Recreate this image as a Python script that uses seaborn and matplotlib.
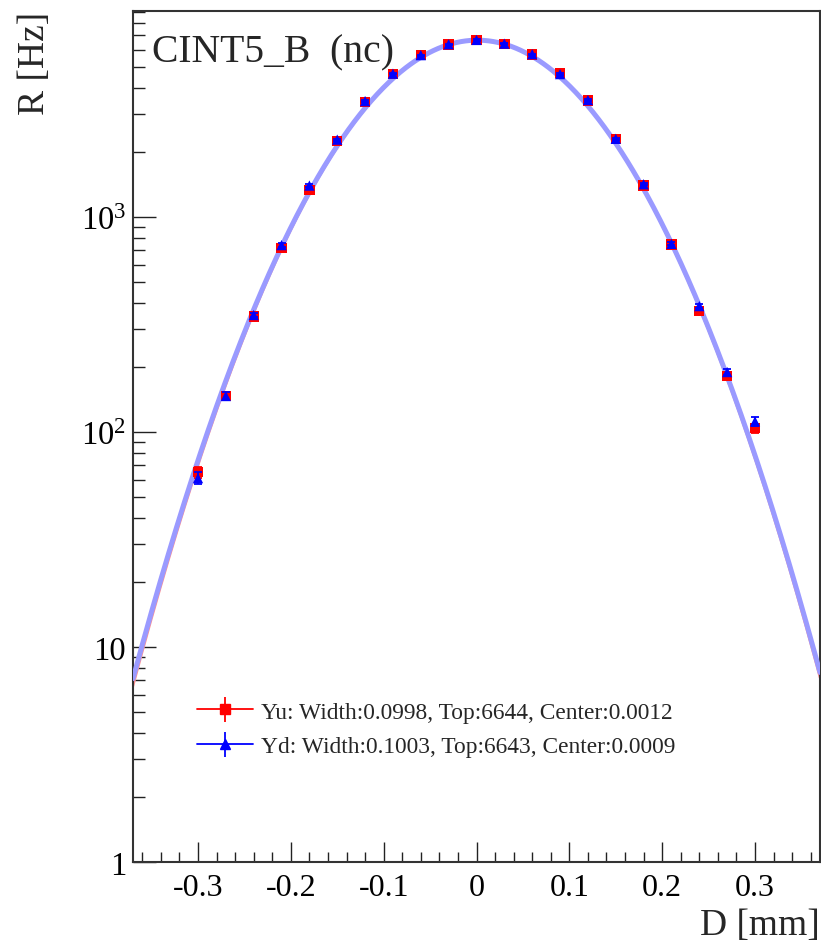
import numpy as np
import pandas as pd
import matplotlib
matplotlib.use("Agg")
import matplotlib.pyplot as plt
from matplotlib.lines import Line2D
from matplotlib.legend_handler import HandlerTuple
from matplotlib.ticker import FixedLocator, LogLocator, MultipleLocator, NullFormatter
import seaborn as sns

# Scan positions [mm]
d_pos = [-0.30, -0.27, -0.24, -0.21, -0.18, -0.15, -0.12, -0.09, -0.06, -0.03, 0.00,
         0.03, 0.06, 0.09, 0.12, 0.15, 0.18, 0.21, 0.24, 0.27, 0.30]

# Measured rates [Hz]
rate_yu = [65, 147, 345, 715, 1340, 2260, 3420, 4620, 5650, 6350, 6640,
           6380, 5700, 4680, 3480, 2300, 1400, 745, 365, 182, 104]
rate_yd = [61, 147, 350, 740, 1400, 2290, 3460, 4640, 5660, 6360, 6660,
           6400, 5720, 4620, 3500, 2310, 1420, 750, 385, 190, 112]
err_yu = [4, 6, 9, 13, 18, 24, 29, 34, 38, 40, 41, 40, 38, 34, 29, 24, 18, 13, 9, 6, 5]
err_yd = [4, 6, 9, 13, 18, 24, 29, 34, 38, 40, 41, 40, 38, 34, 29, 24, 18, 13, 9, 6, 5]

# Gaussian fit results
fit_yu = {"width": 0.0998, "top": 6644, "center": 0.0012}
fit_yd = {"width": 0.1003, "top": 6643, "center": 0.0009}

title_text = "CINT5_B  (nc)"
y_ticks = [1, 10, 100, 1000]
y_ticklabels = ["1", "10", r"$\mathregular{10^{2}}$", r"$\mathregular{10^{3}}$"]
x_ticks = [-0.3, -0.2, -0.1, 0.0, 0.1, 0.2, 0.3]
x_ticklabels = ["-0.3", "-0.2", "-0.1", "0", "0.1", "0.2", "0.3"]

sns.set_theme(style="ticks")
plt.rcParams["font.family"] = ["Liberation Serif", "DejaVu Serif"]
plt.rcParams["mathtext.fontset"] = "custom"
plt.rcParams["mathtext.rm"] = "Liberation Serif"

W, H = 821, 945
fig = plt.figure(figsize=(W / 100, H / 100), dpi=100)
ax_l, ax_r, ax_t, ax_b = 133, 820, 12, 863
ax = fig.add_axes([ax_l / W, (H - ax_b) / H, (ax_r - ax_l) / W, (ax_b - ax_t) / H])

xlo, xhi = -0.37, 0.37
xs = np.linspace(xlo, xhi, 600)


def gauss(x, p):
    return p["top"] * np.exp(-0.5 * ((x - p["center"]) / p["width"]) ** 2)


curves = pd.DataFrame({"D": xs, "Yu": gauss(xs, fit_yu), "Yd": gauss(xs, fit_yd)})
sns.lineplot(data=curves, x="D", y="Yu", ax=ax, color="#ff9090", lw=1.8, zorder=2)
sns.lineplot(data=curves, x="D", y="Yd", ax=ax, color="#9a9aff", lw=3.6, zorder=3)

pts = pd.DataFrame({"D": d_pos, "Yu": rate_yu, "Yd": rate_yd,
                    "eYu": err_yu, "eYd": err_yd})
ax.errorbar(pts["D"], pts["Yu"], yerr=pts["eYu"], fmt="none", ecolor="red",
            elinewidth=1.3, capsize=3, capthick=1.3, zorder=4)
sns.scatterplot(data=pts, x="D", y="Yu", ax=ax, marker="s", s=55, color="red",
                edgecolor="none", zorder=5)
ax.errorbar(pts["D"], pts["Yd"], yerr=pts["eYd"], fmt="none", ecolor="blue",
            elinewidth=1.3, capsize=3, capthick=1.3, zorder=6)
sns.scatterplot(data=pts, x="D", y="Yd", ax=ax, marker="^", s=55, color="blue",
                edgecolor="none", zorder=7)

ax.set_yscale("log")
ax.set_xlim(xlo, xhi)
ax.set_ylim(1, 9080)

ax.xaxis.set_major_locator(FixedLocator(x_ticks))
ax.set_xticklabels(x_ticklabels)
ax.xaxis.set_minor_locator(MultipleLocator(0.02))
ax.yaxis.set_major_locator(FixedLocator(y_ticks))
ax.set_yticklabels(y_ticklabels)
ax.yaxis.set_minor_locator(LogLocator(base=10, subs=np.arange(2, 10)))
ax.yaxis.set_minor_formatter(NullFormatter())

ax.tick_params(axis="both", which="both", direction="in", top=False, right=False,
               colors="#222222", labelcolor="black")
ax.tick_params(axis="x", which="major", length=14.5, width=1.0, labelsize=23, pad=8)
ax.tick_params(axis="x", which="minor", length=7.5, width=1.0)
ax.tick_params(axis="y", which="major", length=16.5, width=1.0, labelsize=23.5, pad=5)
ax.tick_params(axis="y", which="minor", length=8.5, width=1.0)
for s in ax.spines.values():
    s.set_linewidth(1.5)
    s.set_color("#333333")

ax.set_xlabel("")
ax.set_ylabel("")
fig.text(ax_r / W, 1 - 935 / H, "D [mm]", ha="right", va="baseline", fontsize=27)
fig.text(44 / W, 1 - ax_t / H, "R [Hz]", ha="right", va="baseline", rotation=90,
         fontsize=27, rotation_mode="anchor")
fig.text(152 / W, 1 - 62 / H, title_text, ha="left", va="baseline", fontsize=28.5)

h_yu = (Line2D([], [], color="red", lw=1.3),
        Line2D([], [], color="red", marker="|", ms=18, mew=1.3, ls="none"),
        Line2D([], [], color="red", marker="s", ms=6.5, ls="none"))
h_yd = (Line2D([], [], color="blue", lw=1.3),
        Line2D([], [], color="blue", marker="|", ms=18, mew=1.3, ls="none"),
        Line2D([], [], color="blue", marker="^", ms=6.5, ls="none"))
lab_yu = "Yu: Width:%.4f, Top:%d, Center:%.4f" % (fit_yu["width"], fit_yu["top"], fit_yu["center"])
lab_yd = "Yd: Width:%.4f, Top:%d, Center:%.4f" % (fit_yd["width"], fit_yd["top"], fit_yd["center"])
leg = ax.legend([h_yu, h_yd], [lab_yu, lab_yd],
                handler_map={tuple: HandlerTuple(ndivide=1, pad=0)},
                loc="center left", bbox_to_anchor=((197 - ax_l) / (ax_r - ax_l), (863 - 730) / (ax_b - ax_t)),
                frameon=False, fontsize=16.8, handlelength=2.4, handletextpad=0.35,
                labelspacing=0.55, borderpad=0, borderaxespad=0)

fig.savefig("out.png", dpi=100)
